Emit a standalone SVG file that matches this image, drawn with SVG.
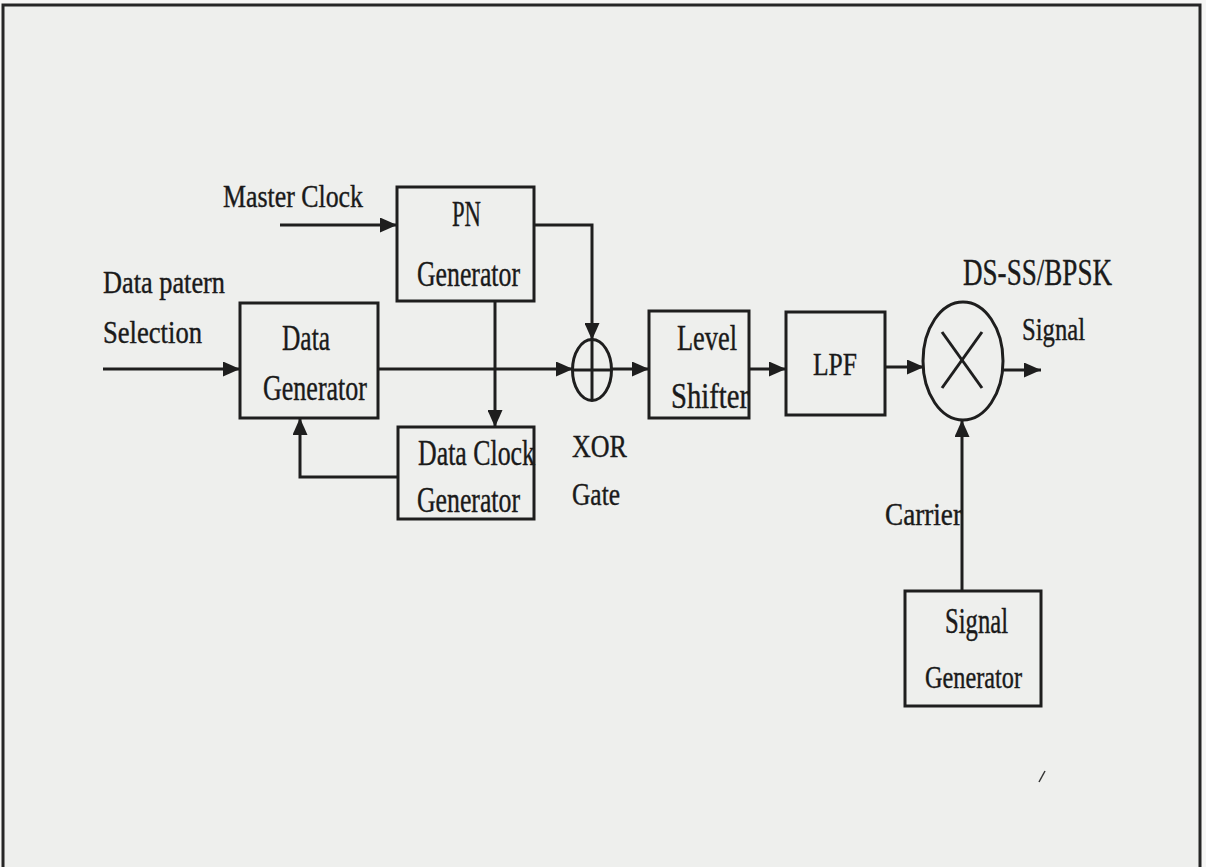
<svg xmlns="http://www.w3.org/2000/svg" width="1206" height="867" viewBox="0 0 1206 867">
<style>
.box{fill:none;stroke:#1e1e1e;stroke-width:3}
.ln{fill:none;stroke:#1e1e1e;stroke-width:3}
.arr{marker-end:url(#ah)}
text{font-family:"Liberation Serif","Times New Roman",serif;fill:#1a1a1a;stroke:#1a1a1a;stroke-width:0.4}
.t30{font-size:31px}
.t28{font-size:31px}
.t35{font-size:35px}
.t38{font-size:38px}
</style>
<defs>
<marker id="ah" markerUnits="userSpaceOnUse" markerWidth="17" markerHeight="15" refX="17" refY="7.5" orient="auto">
<path d="M0,0 L17,7.5 L0,15 Z" fill="#1e1e1e"/>
</marker>
</defs>
<rect x="0" y="0" width="1206" height="867" fill="#f6f6f5"/>
<rect x="3" y="5" width="1197" height="880" fill="#eeefed" stroke="#262626" stroke-width="3"/>

<g id="connectors">
<line class="ln arr" x1="280" y1="225" x2="397" y2="225"/>
<line class="ln arr" x1="103" y1="369" x2="240" y2="369"/>
<line class="ln arr" x1="378" y1="369" x2="573" y2="369"/>
<path class="ln arr" d="M534,225 H592 V340"/>
<line class="ln arr" x1="495" y1="301" x2="495" y2="427"/>
<path class="ln arr" d="M398,477 H300 V418"/>
<line class="ln arr" x1="612" y1="369" x2="649" y2="369"/>
<line class="ln arr" x1="749" y1="369" x2="786" y2="369"/>
<line class="ln arr" x1="885" y1="367" x2="924" y2="367"/>
<line class="ln arr" x1="1003" y1="370" x2="1041" y2="370"/>
<line class="ln arr" x1="962" y1="591" x2="962" y2="420"/>
</g>

<g id="master-clock-label"><text class="t30" x="223" y="207" textLength="140" lengthAdjust="spacingAndGlyphs">Master Clock</text></g>
<g id="data-pattern-label">
<text class="t30" x="103" y="293" textLength="122" lengthAdjust="spacingAndGlyphs">Data patern</text>
<text class="t30" x="103" y="343" textLength="99" lengthAdjust="spacingAndGlyphs">Selection</text>
</g>

<g id="pn-generator">
<rect class="box" x="397" y="187" width="137" height="114"/>
<text class="t35" x="452" y="226" textLength="29" lengthAdjust="spacingAndGlyphs">PN</text>
<text class="t35" x="417" y="286" textLength="103" lengthAdjust="spacingAndGlyphs">Generator</text>
</g>

<g id="data-generator">
<rect class="box" x="240" y="303" width="138" height="115"/>
<text class="t35" x="282" y="350" textLength="48" lengthAdjust="spacingAndGlyphs">Data</text>
<text class="t35" x="263" y="400" textLength="104" lengthAdjust="spacingAndGlyphs">Generator</text>
</g>

<g id="data-clock-generator">
<rect class="box" x="398" y="427" width="136" height="92"/>
<text class="t35" x="418" y="465" textLength="117" lengthAdjust="spacingAndGlyphs">Data Clock</text>
<text class="t35" x="417" y="512" textLength="103" lengthAdjust="spacingAndGlyphs">Generator</text>
</g>

<g id="xor-gate">
<ellipse class="box" cx="592" cy="370" rx="19.5" ry="30.5"/>
<line class="ln" x1="592" y1="340" x2="592" y2="401"/>
<line class="ln" x1="573" y1="370" x2="612" y2="370"/>
<text class="t28" x="572" y="457" textLength="55" lengthAdjust="spacingAndGlyphs">XOR</text>
<text class="t28" x="572" y="505" textLength="48" lengthAdjust="spacingAndGlyphs">Gate</text>
</g>

<g id="level-shifter">
<rect class="box" x="649" y="311" width="100" height="107"/>
<text class="t35" x="677" y="350" textLength="60" lengthAdjust="spacingAndGlyphs">Level</text>
<text class="t35" x="671" y="408" textLength="78" lengthAdjust="spacingAndGlyphs">Shifter</text>
</g>

<g id="lpf">
<rect class="box" x="786" y="312" width="99" height="103"/>
<text class="t30" x="813" y="375" textLength="44" lengthAdjust="spacingAndGlyphs">LPF</text>
</g>

<g id="mixer">
<ellipse class="box" cx="963" cy="361" rx="40" ry="59"/>
<line class="ln" x1="942" y1="332" x2="982" y2="388"/>
<line class="ln" x1="982" y1="332" x2="942" y2="388"/>
</g>

<g id="output-label">
<text class="t38" x="963" y="285" textLength="149" lengthAdjust="spacingAndGlyphs">DS-SS/BPSK</text>
<text class="t30" x="1022" y="340" textLength="63" lengthAdjust="spacingAndGlyphs">Signal</text>
</g>

<g id="carrier-label"><text class="t30" x="885" y="525" textLength="77" lengthAdjust="spacingAndGlyphs">Carrier</text></g>

<g id="signal-generator">
<rect class="box" x="905" y="591" width="136" height="115"/>
<text class="t35" x="945" y="633" textLength="63" lengthAdjust="spacingAndGlyphs">Signal</text>
<text class="t30" x="925" y="688" textLength="97" lengthAdjust="spacingAndGlyphs">Generator</text>
</g>

<line x1="1039" y1="782" x2="1045" y2="771" stroke="#333" stroke-width="1.5"/>
</svg>
